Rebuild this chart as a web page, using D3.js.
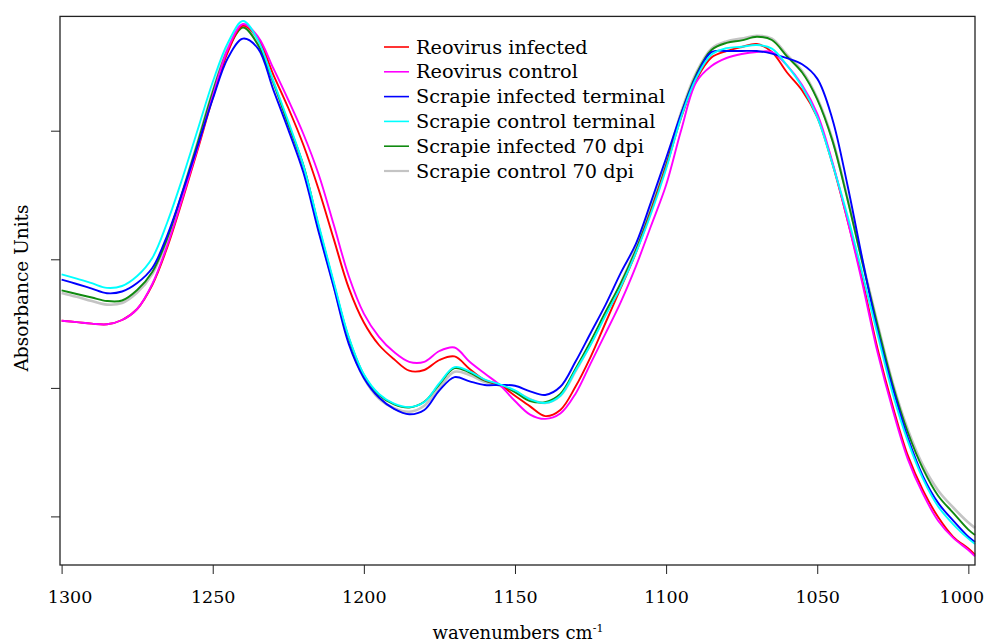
<!DOCTYPE html>
<html>
<head>
<meta charset="utf-8">
<script src="https://cdn.jsdelivr.net/npm/d3@7"></script>
<style>
  body { margin: 0; background: #fff; }
  svg { display: block; }
  text { font-family: "DejaVu Serif", "Liberation Serif", serif; fill: #000; }
</style>
</head>
<body>
<svg id="chart" width="987" height="643"></svg>
<script>
// wavenumbers (cm-1), shared by all spectra
const wavenumbers = [1300, 1295, 1290, 1285, 1280, 1275, 1270, 1265, 1260, 1255, 1250, 1245, 1240, 1235, 1230, 1225, 1220,
  1215, 1210, 1205, 1200, 1195, 1190, 1185, 1180, 1175, 1170, 1165, 1160, 1155, 1150, 1145, 1140, 1135, 1130, 1125, 1120,
  1115, 1110, 1105, 1100, 1095, 1090, 1085, 1080, 1075, 1070, 1065, 1060, 1055, 1050, 1045, 1040, 1035, 1030, 1025, 1020,
  1015, 1010, 1005, 1000, 997.8];

// absorbance (arbitrary units)
const reoInfected = [0.2793, 0.2779, 0.2764, 0.2757, 0.2800, 0.2910, 0.3150, 0.3530, 0.4000, 0.4500, 0.5020, 0.5480, 0.5745,
  0.5614, 0.5257, 0.4920, 0.4550, 0.4110, 0.3614, 0.3121, 0.2775, 0.2550, 0.2407, 0.2293, 0.2300, 0.2400, 0.2436, 0.2311,
  0.2200, 0.2150, 0.2043, 0.1936, 0.1839, 0.1900, 0.2132, 0.2429, 0.2775, 0.3121, 0.3471, 0.3882, 0.4329, 0.4825, 0.5204,
  0.5425, 0.5490, 0.5530, 0.5560, 0.5480, 0.5275, 0.5096, 0.4829, 0.4364, 0.3800, 0.3193, 0.2507, 0.1936, 0.1443, 0.1096,
  0.0829, 0.0632, 0.0514, 0.0454];
const reoControl = [0.2793, 0.2779, 0.2764, 0.2757, 0.2800, 0.2910, 0.3160, 0.3550, 0.4020, 0.4520, 0.5040, 0.5510, 0.5760,
  0.5632, 0.5320, 0.5000, 0.4660, 0.4260, 0.3757, 0.3240, 0.2864, 0.2632, 0.2479, 0.2382, 0.2382, 0.2490, 0.2525, 0.2382,
  0.2264, 0.2150, 0.1990, 0.1854, 0.1811, 0.1864, 0.2061, 0.2364, 0.2668, 0.2979, 0.3336, 0.3740, 0.4150, 0.4700, 0.5180,
  0.5340, 0.5420, 0.5460, 0.5480, 0.5479, 0.5346, 0.5150, 0.4864, 0.4382, 0.3800, 0.3157, 0.2471, 0.1900, 0.1407, 0.1061,
  0.0793, 0.0621, 0.0500, 0.0436];
const scrInfTerminal = [0.3204, 0.3160, 0.3114, 0.3068, 0.3085, 0.3170, 0.3320, 0.3650, 0.4080, 0.4540, 0.5010, 0.5420, 0.5614,
  0.5514, 0.5107, 0.4704, 0.4275, 0.3686, 0.3132, 0.2561, 0.2221, 0.2025, 0.1911, 0.1857, 0.1900, 0.2096, 0.2229, 0.2186,
  0.2150, 0.2150, 0.2143, 0.2086, 0.2050, 0.2132, 0.2382, 0.2668, 0.2954, 0.3271, 0.3561, 0.3979, 0.4418, 0.4864, 0.5239,
  0.5479, 0.5490, 0.5490, 0.5490, 0.5464, 0.5418, 0.5357, 0.5214, 0.4811, 0.4150, 0.3400, 0.2686, 0.2114, 0.1621, 0.1236,
  0.0971, 0.0793, 0.0632, 0.0580];
const scrCtrlTerminal = [0.3257, 0.3214, 0.3168, 0.3121, 0.3140, 0.3240, 0.3420, 0.3780, 0.4220, 0.4700, 0.5180, 0.5570, 0.5790,
  0.5596, 0.5193, 0.4786, 0.4346, 0.3757, 0.3186, 0.2632, 0.2257, 0.2060, 0.1964, 0.1929, 0.1980, 0.2168, 0.2329, 0.2286,
  0.2204, 0.2157, 0.2096, 0.2007, 0.1971, 0.2043, 0.2293, 0.2550, 0.2846, 0.3132, 0.3471, 0.3864, 0.4311, 0.4829, 0.5221,
  0.5454, 0.5518, 0.5532, 0.5550, 0.5514, 0.5346, 0.5132, 0.4829, 0.4364, 0.3846, 0.3257, 0.2650, 0.2061, 0.1586, 0.1211,
  0.0936, 0.0757, 0.0614, 0.0560];
const scrInf70 = [0.3096, 0.3060, 0.3025, 0.2990, 0.2995, 0.3100, 0.3280, 0.3620, 0.4080, 0.4570, 0.5080, 0.5500, 0.5725,
  0.5550, 0.5180, 0.4757, 0.4346, 0.3740, 0.3168, 0.2621, 0.2250, 0.2050, 0.1957, 0.1925, 0.1982, 0.2157, 0.2318, 0.2275,
  0.2193, 0.2150, 0.2079, 0.1990, 0.1979, 0.2061, 0.2311, 0.2586, 0.2882, 0.3168, 0.3500, 0.3900, 0.4346, 0.4864, 0.5257,
  0.5500, 0.5571, 0.5596, 0.5632, 0.5600, 0.5436, 0.5275, 0.5007, 0.4596, 0.4007, 0.3364, 0.2740, 0.2150, 0.1675, 0.1311,
  0.1043, 0.0871, 0.0704, 0.0650];
const scrCtrl70 = [0.3071, 0.3032, 0.2990, 0.2954, 0.2970, 0.3075, 0.3260, 0.3610, 0.4080, 0.4580, 0.5090, 0.5520, 0.5740,
  0.5560, 0.5180, 0.4760, 0.4329, 0.3721, 0.3150, 0.2596, 0.2221, 0.2014, 0.1918, 0.1882, 0.1943, 0.2121, 0.2282, 0.2250,
  0.2179, 0.2143, 0.2086, 0.2007, 0.1971, 0.2043, 0.2286, 0.2561, 0.2864, 0.3168, 0.3514, 0.3918, 0.4364, 0.4882, 0.5275,
  0.5514, 0.5586, 0.5614, 0.5643, 0.5614, 0.5450, 0.5290, 0.5020, 0.4610, 0.4020, 0.3380, 0.2760, 0.2170, 0.1704, 0.1346,
  0.1096, 0.0925, 0.0775, 0.0721];

const xTicks = [1300, 1250, 1200, 1150, 1100, 1050, 1000];
const yTicks = [0.0836, 0.2121, 0.3407, 0.4693];

const seriesNames = ["Reovirus infected", "Reovirus control", "Scrapie infected terminal",
  "Scrapie control terminal", "Scrapie infected 70 dpi", "Scrapie control 70 dpi"];
const seriesValues = [reoInfected, reoControl, scrInfTerminal, scrCtrlTerminal, scrInf70, scrCtrl70];
const seriesColors = ["#ff0000", "#ff00ff", "#0000ff", "#00ffff", "#108a10", "#c4c4c4"];
// which series is painted first (gray sits under the others)
const drawOrder = [5, 4, 0, 1, 2, 3];

function drawChart() {
  const svg = d3.select("#chart");
  svg.selectAll("*").remove();

  const area = { left: 61, right: 975, top: 16.4, bottom: 565 };

  const scX = d3.scaleLinear().domain([1300.2, 997.8]).range([area.left, area.right]);
  const scY = d3.scaleLinear().domain([0.035, 0.5836]).range([area.bottom, area.top]);

  // x axis
  const gx = svg.append("g")
    .attr("transform", `translate(0, ${area.bottom})`)
    .call(d3.axisBottom(scX).tickValues(xTicks).tickFormat(d3.format("d")).tickSize(9).tickPadding(17));
  gx.select(".domain").remove();
  gx.selectAll("line").attr("stroke", "#222");
  gx.selectAll("text")
    .style("font-size", "17.5px")
    .style("font-family", "'DejaVu Serif', serif")
    .attr("dx", d => d === 1300 ? 8 : d === 1000 ? -7 : 0);

  // y axis, ticks only
  const gy = svg.append("g")
    .attr("transform", `translate(${area.left - 1}, 0)`)
    .call(d3.axisLeft(scY).tickValues(yTicks).tickFormat("").tickSize(9));
  gy.select(".domain").remove();
  gy.selectAll("line").attr("stroke", "#222");

  // spectra
  const line = d3.line()
    .x((d, i) => scX(wavenumbers[i]))
    .y(d => scY(d))
    .curve(d3.curveCatmullRom.alpha(0.5));

  drawOrder.forEach(k => {
    svg.append("path")
      .datum(seriesValues[k])
      .attr("d", line)
      .attr("fill", "none")
      .attr("stroke", seriesColors[k])
      .attr("stroke-width", k === 5 ? 2.6 : 1.9)
      .attr("stroke-linejoin", "round");
  });

  // frame
  svg.append("rect")
    .attr("x", area.left - 1)
    .attr("y", area.top)
    .attr("width", area.right - area.left + 1)
    .attr("height", area.bottom - area.top)
    .attr("fill", "none")
    .attr("stroke", "#222")
    .attr("stroke-width", 1.3);

  // legend
  const leg = svg.append("g").attr("transform", "translate(384, 47)");
  seriesNames.forEach((name, i) => {
    leg.append("line")
      .attr("x1", 0).attr("x2", 25)
      .attr("y1", i * 24.8).attr("y2", i * 24.8)
      .attr("stroke", seriesColors[i])
      .attr("stroke-width", i === 5 ? 2.2 : 1.6);
    leg.append("text")
      .attr("x", 32)
      .attr("y", i * 24.8 + 6.5)
      .style("font-size", "19.3px")
      .text(name);
  });

  // axis titles
  const xt = svg.append("text")
    .attr("x", 518)
    .attr("y", 639)
    .attr("text-anchor", "middle")
    .style("font-size", "18px");
  xt.append("tspan").text("wavenumbers cm");
  xt.append("tspan").attr("dy", -7).style("font-size", "11px").text("-1");

  svg.append("text")
    .attr("transform", "translate(28, 288) rotate(-90)")
    .attr("text-anchor", "middle")
    .style("font-size", "18.5px")
    .text("Absorbance Units");
}

drawChart();
</script>
</body>
</html>
